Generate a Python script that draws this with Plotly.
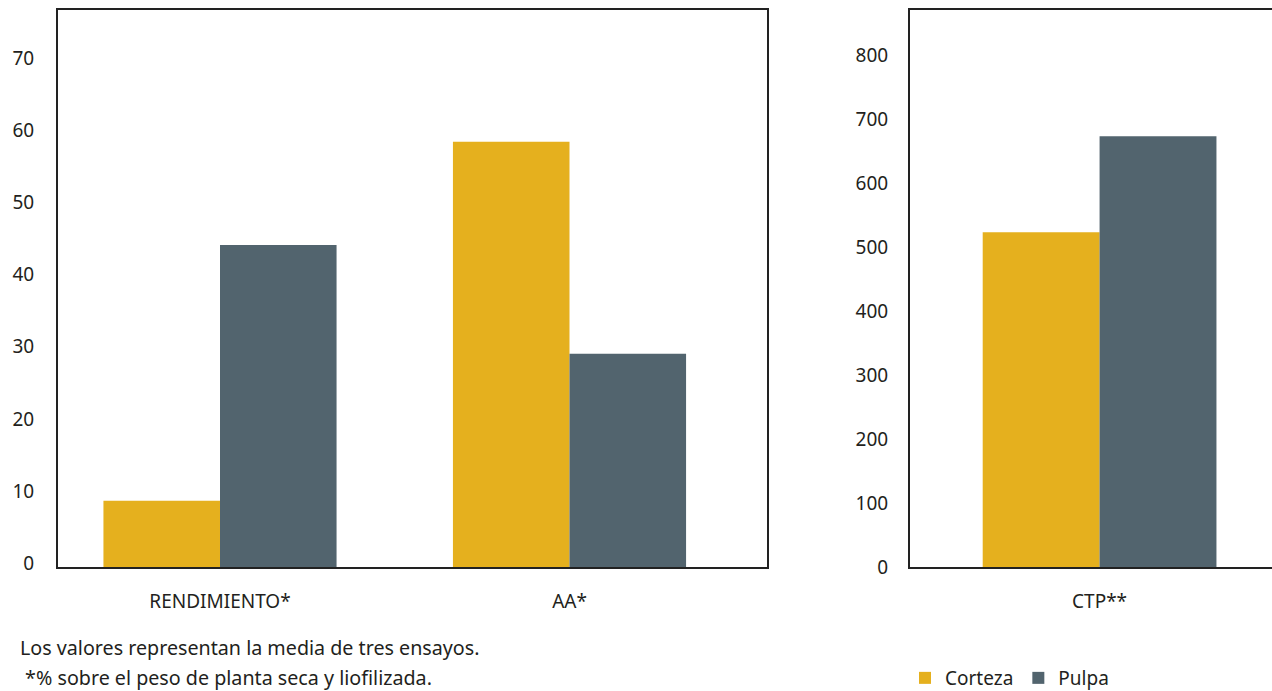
import plotly.graph_objects as go

series_names = ["Corteza", "Pulpa"]
colors = ["#E5B01E", "#52646E"]

left_categories = ["RENDIMIENTO*", "AA*"]
left_corteza = [9.2, 59.0]
left_pulpa = [44.7, 29.6]

right_categories = ["CTP**"]
right_corteza = [523]
right_pulpa = [673]

left_ticks = [0, 10, 20, 30, 40, 50, 60, 70]
right_ticks = [0, 100, 200, 300, 400, 500, 600, 700, 800]

footnotes = ["Los valores representan la media de tres ensayos.",
             " *% sobre el peso de planta seca y liofilizada."]

FONT = "Noto Sans"
TXT = "#231F20"

fig = go.Figure()
fig.add_trace(go.Bar(x=left_categories, y=left_corteza, name=series_names[0],
                     marker=dict(color=colors[0], line=dict(width=0)), xaxis="x", yaxis="y"))
fig.add_trace(go.Bar(x=left_categories, y=left_pulpa, name=series_names[1],
                     marker=dict(color=colors[1], line=dict(width=0)), xaxis="x", yaxis="y"))
fig.add_trace(go.Bar(x=right_categories, y=right_corteza, name=series_names[0], showlegend=False,
                     marker=dict(color=colors[0], line=dict(width=0)), xaxis="x2", yaxis="y2"))
fig.add_trace(go.Bar(x=right_categories, y=right_pulpa, name=series_names[1], showlegend=False,
                     marker=dict(color=colors[1], line=dict(width=0)), xaxis="x2", yaxis="y2"))

axis_common = dict(showline=True, linecolor="#222222", linewidth=2, mirror=True,
                   showgrid=False, zeroline=False, ticks="",
                   tickfont=dict(family=FONT, size=19, color=TXT))

fig.update_layout(
    width=1272, height=691,
    paper_bgcolor="white", plot_bgcolor="white",
    margin=dict(l=58, r=0, t=10, b=124, autoexpand=False),
    barmode="group", bargap=0.333, bargroupgap=0,
    font=dict(family=FONT, color=TXT),
    xaxis=dict(domain=[0, 0.584], range=[-0.4635, 1.565], anchor="y",
               ticklabelstandoff=16, **axis_common),
    yaxis=dict(domain=[0, 1], range=[0, 77.3], anchor="x", tickvals=left_ticks,
               ticklabelstandoff=18, ticklabelshift=-4, **axis_common),
    xaxis2=dict(domain=[0.7018, 1], range=[-0.541, 0.492], anchor="y2",
                ticklabelstandoff=16, **axis_common),
    yaxis2=dict(domain=[0, 1], range=[0, 870.3], anchor="x2", tickvals=right_ticks,
                ticklabelstandoff=16, **axis_common),
    legend=dict(orientation="h", x=0.6977, xanchor="left",
                yref="container", y=0.0188, yanchor="middle",
                font=dict(family=FONT, size=19, color=TXT), itemwidth=30,
                traceorder="normal", bgcolor="rgba(0,0,0,0)"),
)

fig.add_annotation(text=footnotes[0], xref="paper", yref="paper", x=-0.0330, y=-0.1454,
                   xanchor="left", yanchor="middle", showarrow=False,
                   font=dict(family=FONT, size=19.7, color=TXT))
fig.add_annotation(text=footnotes[1], xref="paper", yref="paper", x=-0.0330, y=-0.1975,
                   xanchor="left", yanchor="middle", showarrow=False,
                   font=dict(family=FONT, size=19.7, color=TXT))

fig.write_html("out.html")
